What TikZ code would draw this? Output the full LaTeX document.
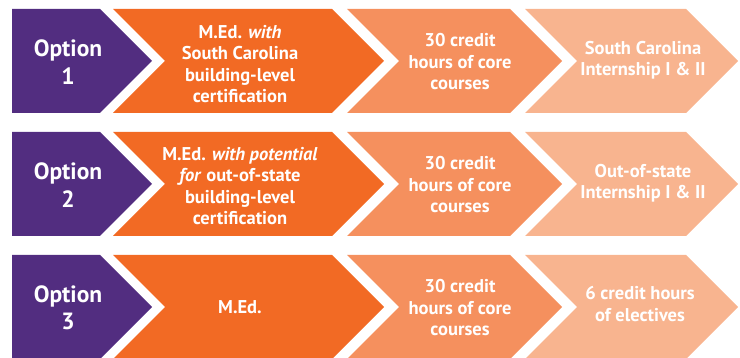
\documentclass[tikz,border=0pt]{standalone}
\usepackage{fontspec}
\setmainfont{PT Sans}
\usepackage{tikz}
\usetikzlibrary{calc,positioning}
\definecolor{cupurple}{HTML}{522D80}
\definecolor{cuorange}{HTML}{F26A24}
\definecolor{cumid}{HTML}{F5905E}
\definecolor{culight}{HTML}{F8B48F}

\begin{document}
\begin{tikzpicture}[x=1pt,y=-1pt,
  opt/.style={text=white,align=center,font=\fontsize{23.5}{27.5}\selectfont\bfseries},
  txt/.style={text=white,align=center,font=\fontsize{18.5}{21.5}\selectfont\bfseries}]
\useasboundingbox (0,0) rectangle (740,358);
% row 1
\fill[cupurple] (12,9) -- (100,9) -- ++(52,52) -- ++(-52,52) -- (12,113) -- cycle;
\fill[cuorange] (113,9) -- (332,9) -- ++(52,52) -- ++(-52,52) -- (113,113) -- ++(52,-52) -- cycle;
\fill[cumid] (347,9) -- (510,9) -- ++(52,52) -- ++(-52,52) -- (347,113) -- ++(52,-52) -- cycle;
\fill[culight] (525,9) -- (686,9) -- ++(52,52) -- ++(-52,52) -- (525,113) -- ++(52,-52) -- cycle;
% row 2
\fill[cupurple] (12,132) -- (100,132) -- ++(52,52) -- ++(-52,52) -- (12,236) -- cycle;
\fill[cuorange] (113,132) -- (332,132) -- ++(52,52) -- ++(-52,52) -- (113,236) -- ++(52,-52) -- cycle;
\fill[cumid] (347,132) -- (510,132) -- ++(52,52) -- ++(-52,52) -- (347,236) -- ++(52,-52) -- cycle;
\fill[culight] (525,132) -- (686,132) -- ++(52,52) -- ++(-52,52) -- (525,236) -- ++(52,-52) -- cycle;
% row 3
\fill[cupurple] (12,255) -- (100,255) -- ++(52,52) -- ++(-52,52) -- (12,359) -- cycle;
\fill[cuorange] (113,255) -- (332,255) -- ++(52,52) -- ++(-52,52) -- (113,359) -- ++(52,-52) -- cycle;
\fill[cumid] (347,255) -- (510,255) -- ++(52,52) -- ++(-52,52) -- (347,359) -- ++(52,-52) -- cycle;
\fill[culight] (525,255) -- (686,255) -- ++(52,52) -- ++(-52,52) -- (525,359) -- ++(52,-52) -- cycle;
% labels
\node[opt] (opt1) at (68,62) {Option\\1};
\node[txt] (med1) at (240,64) {M.Ed. \textit{with}\\South Carolina\\building-level\\certification};
\node[txt] (core1) at (460,62) {30 credit\\hours of core\\courses};
\node[txt] (intern1) at (643,60) {South Carolina\\Internship I \& II};
\node[opt] (opt2) at (68,185) {Option\\2};
\node[txt] (med2) at (240,186) {M.Ed. \textit{with potential}\\\textit{for} out-of-state\\building-level\\certification};
\node[txt] (core2) at (460,185) {30 credit\\hours of core\\courses};
\node[txt] (intern2) at (643,183) {Out-of-state\\Internship I \& II};
\node[opt] (opt3) at (68,308) {Option\\3};
\node[txt] (med3) at (240,307) {M.Ed.};
\node[txt] (core3) at (460,308) {30 credit\\hours of core\\courses};
\node[txt] (elect3) at (640,304) {6 credit hours\\of electives};
\end{tikzpicture}
\end{document}
